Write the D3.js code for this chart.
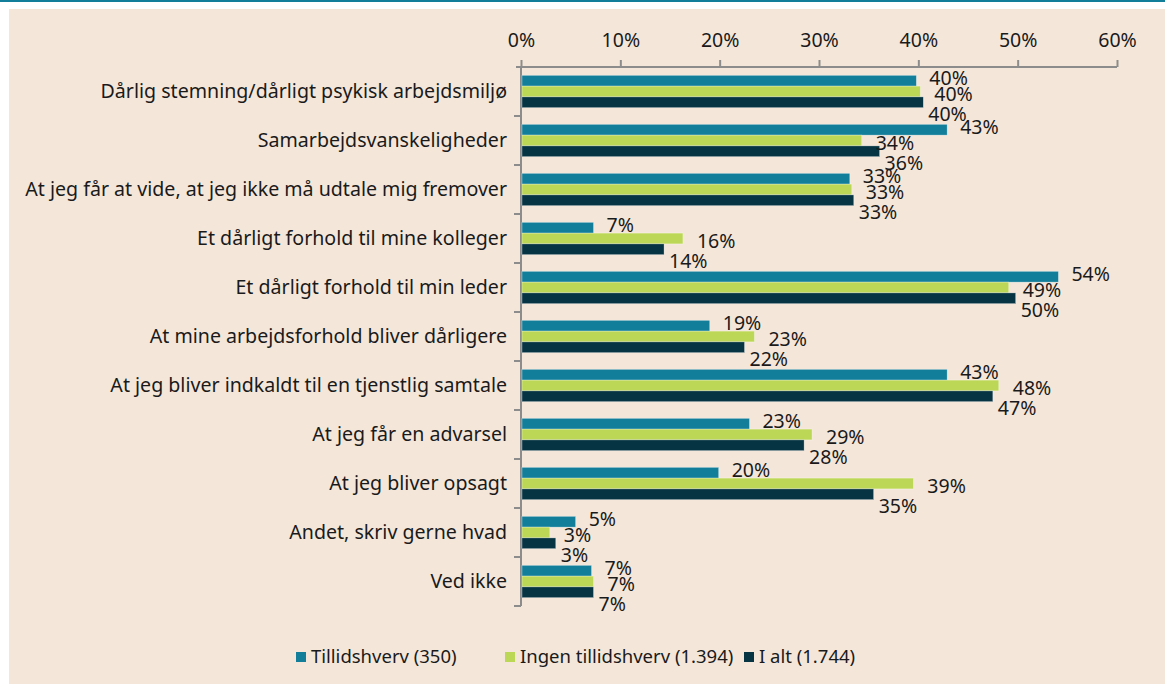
<!DOCTYPE html>
<html>
<head>
<meta charset="utf-8">
<script src="https://cdn.jsdelivr.net/npm/d3@7"></script>
<style>
  body { margin: 0; background: #fff; }
  svg { display: block; }
  text { font-family: "Noto Sans", "Open Sans", sans-serif; fill: #1a1a1a; }
</style>
</head>
<body>
<div id="chart"></div>
<script>
// data
let categories = [
    'Dårlig stemning/dårligt psykisk arbejdsmiljø',
    'Samarbejdsvanskeligheder',
    'At jeg får at vide, at jeg ikke må udtale mig fremover',
    'Et dårligt forhold til mine kolleger',
    'Et dårligt forhold til min leder',
    'At mine arbejdsforhold bliver dårligere',
    'At jeg bliver indkaldt til en tjenstlig samtale',
    'At jeg får en advarsel',
    'At jeg bliver opsagt',
    'Andet, skriv gerne hvad',
    'Ved ikke'
];
let seriesNames = ['Tillidshverv (350)', 'Ingen tillidshverv (1.394)', 'I alt (1.744)'];
let tillidshverv = [39.7, 42.8, 33.0, 7.2, 54.0, 18.9, 42.8, 22.9, 19.8, 5.4, 7.0];
let ingenTillidshverv = [40.1, 34.2, 33.2, 16.2, 49.0, 23.4, 48.0, 29.2, 39.4, 2.8, 7.2];
let iAlt = [40.4, 36.0, 33.4, 14.3, 49.7, 22.4, 47.4, 28.4, 35.4, 3.4, 7.2];
let ticks = [0, 10, 20, 30, 40, 50, 60];
let colors = ['#137e9a', '#bcd756', '#063442'];

let width = 1165, height = 684;
let margin = { top: 67, left: 521, right: 48, bottom: 78 };

let svg = d3.select('#chart').append('svg')
    .attr('width', width)
    .attr('height', height);

// frame: teal line on top, beige panel
svg.append('rect').attr('x', 0).attr('y', 0).attr('width', width).attr('height', 2).attr('fill', '#137e9a');
svg.append('rect').attr('x', 9).attr('y', 9).attr('width', width - 9).attr('height', height - 9).attr('fill', '#f4e7da');

let x = d3.scaleLinear().domain([0, 60]).range([margin.left, width - margin.right]);
let y = d3.scaleBand().domain(categories).range([margin.top, height - margin.bottom]).paddingInner(0.34).paddingOuter(0.17);
let ySub = d3.scaleBand().domain(d3.range(3)).range([0, y.bandwidth()]);

let allSeries = [tillidshverv, ingenTillidshverv, iAlt];
// label offsets per series (excel pushes labels apart)
let labelDx = [14, 15, 6];
let labelDy = [-3, 3, 12];

let rows = [];
allSeries.forEach((vals, s) => {
    vals.forEach((v, i) => rows.push({ s: s, cat: categories[i], v: v }));
});

// top axis
let xAxis = d3.axisTop(x).tickValues(ticks).tickFormat(d => d + '%').tickSize(7).tickSizeOuter(0);
let gx = svg.append('g').attr('transform', 'translate(0,' + margin.top + ')').call(xAxis);
gx.select('.domain').attr('stroke', '#8c8c8c').attr('stroke-width', 2).attr('d', 'M' + (margin.left - 5) + ',0H' + x(60));
gx.selectAll('.tick line').attr('stroke', '#8c8c8c').attr('stroke-width', 2);
gx.selectAll('.tick text').attr('font-size', 19.5).attr('dy', '-0.5em');

// left axis
let boundaries = categories.map((c, i) => margin.top + (height - margin.bottom - margin.top) / categories.length * (i + 1));
let gy = svg.append('g');
gy.append('line')
    .attr('x1', margin.left).attr('x2', margin.left)
    .attr('y1', margin.top).attr('y2', height - margin.bottom)
    .attr('stroke', '#8c8c8c').attr('stroke-width', 2);
gy.selectAll('.tk').data(boundaries).enter().append('line')
    .attr('x1', margin.left - 7).attr('x2', margin.left)
    .attr('y1', d => d).attr('y2', d => d)
    .attr('stroke', '#8c8c8c').attr('stroke-width', 2);
gy.selectAll('.cat').data(categories).enter().append('text')
    .attr('x', margin.left - 14)
    .attr('y', d => y(d) + y.bandwidth() / 2)
    .attr('dy', '0.35em')
    .attr('text-anchor', 'end')
    .attr('font-size', 19.6)
    .text(d => d);

// bars
svg.append('g').selectAll('rect').data(rows).enter().append('rect')
    .attr('x', x(0) + 1)
    .attr('y', d => y(d.cat) + ySub(d.s))
    .attr('width', d => x(d.v) - x(0))
    .attr('height', ySub.bandwidth())
    .attr('fill', d => colors[d.s])
    .attr('stroke', 'rgba(255,255,255,0.5)')
    .attr('stroke-width', 0.6);

// value labels
svg.append('g').selectAll('text').data(rows).enter().append('text')
    .attr('x', d => x(d.v) + labelDx[d.s])
    .attr('y', d => y(d.cat) + ySub(d.s) + ySub.bandwidth() / 2 + labelDy[d.s])
    .attr('dy', '0.35em')
    .attr('font-size', 19.5)
    .text(d => Math.round(d.v) + '%');

// legend
let legendX = [296, 505, 744];
let legend = svg.append('g').selectAll('g').data(seriesNames).enter().append('g')
    .attr('transform', (d, i) => 'translate(' + legendX[i] + ',657)');
legend.append('rect').attr('x', 0).attr('y', -5).attr('width', 10).attr('height', 10)
    .attr('fill', (d, i) => colors[i]);
legend.append('text').attr('x', 15).attr('dy', '0.35em').attr('font-size', 18.5).text(d => d);
</script>
</body>
</html>
